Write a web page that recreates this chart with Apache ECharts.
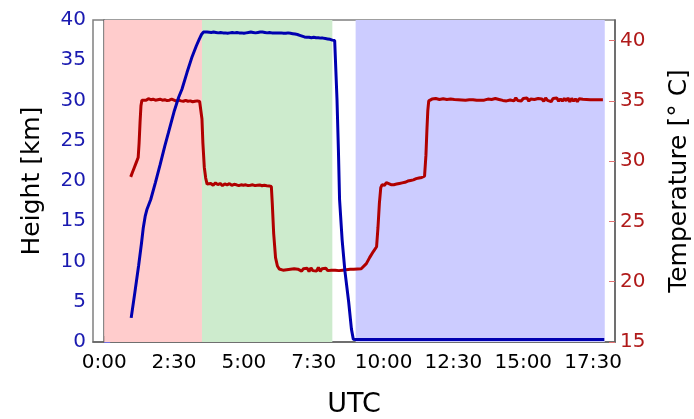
<!DOCTYPE html>
<html>
<head>
<meta charset="utf-8">
<script src="https://cdn.jsdelivr.net/npm/echarts@6/dist/echarts.min.js"></script>
<style>
  html, body { margin: 0; padding: 0; background: #fff; }
  #chart { width: 694px; height: 419px; }
</style>
</head>
<body>
<div id="chart"></div>
<script>
// Flight profile: balloon height and payload temperature against UTC (minutes after 0:00)

// Height of the balloon [km]
const heightMinutes = [
  58, 66, 74, 80, 84, 88, 92, 100, 110, 120, 130, 138, 150, 160, 167, 178, 188, 198, 204, 209,
  213, 217, 221, 225, 230, 235, 240, 245, 250, 255, 260, 265, 270, 275, 280, 285, 290, 295, 300,
  305, 310, 315, 320, 325, 330, 335, 340, 345, 350, 355, 360, 363, 366, 370, 375, 380, 385, 390,
  395, 400, 405, 410, 415, 420, 425, 430, 435, 440, 445, 450, 455, 460, 465, 470, 475, 480, 485,
  490, 495, 498,
  500, 503, 505.5, 511, 517, 525, 531, 535,
  540, 600, 700, 800, 900, 1000, 1074
];
const heightKm = [
  3.0, 6.2, 9.5, 12.2, 14.2, 15.6, 16.5, 17.7, 19.8, 22.0, 24.3, 26.0, 28.6, 30.4, 31.4, 33.5, 35.3, 36.8, 37.6, 38.2,
  38.5, 38.55, 38.5, 38.55, 38.45, 38.5, 38.45, 38.4, 38.45, 38.4, 38.4, 38.35, 38.4, 38.45, 38.4, 38.45, 38.4, 38.4, 38.35,
  38.4, 38.45, 38.5, 38.45, 38.4, 38.45, 38.5, 38.5, 38.45, 38.4, 38.45, 38.4, 38.6, 38.4, 38.45, 38.4, 38.4, 38.35, 38.35,
  38.4, 38.35, 38.3, 38.25, 38.2, 38.1, 38.0, 37.9, 37.85, 37.85, 37.8, 37.85, 37.8, 37.8, 37.75, 37.75, 37.7, 37.65, 37.6,
  37.5, 37.45, 37.35,
  30.1, 23.9, 17.7, 12.7, 8.8, 5.0, 1.6, 0.35,
  0.3, 0.3, 0.3, 0.3, 0.3, 0.3, 0.3
];

// Payload temperature [°C]
const tempMinutes = [
  57, 61, 65, 69, 73, 75, 77, 79, 81,
  85, 90, 95, 100, 105, 110, 115, 120, 125, 130, 135, 140, 145, 150, 155, 160, 165, 170, 175, 180,
  185, 190, 195, 200, 205,
  208, 210, 212, 215, 218, 221, 224,
  229, 234, 239, 244, 249, 254, 259, 264, 269, 274, 279, 284, 289, 294, 299, 304, 309, 314, 319,
  324, 329, 334, 339, 344, 349, 354,
  359, 361, 364, 368, 372, 376,
  380, 384, 388, 392, 396, 400, 404, 408, 412, 416, 420, 424, 428, 432, 436, 440, 444, 448, 452,
  456, 460, 464, 468, 472, 476, 480, 484, 488, 492, 496, 500, 504, 508, 512, 516, 520, 524, 528,
  532, 536, 540, 544, 548, 552,
  556, 563, 570, 578, 585, 588, 591, 594, 597, 602, 606, 610, 616, 622, 628, 634, 640, 646, 652,
  658, 664, 670, 676, 682, 688, 691, 693, 695, 697, 700,
  704, 708, 712, 716, 720, 724, 728, 732, 736, 740, 744, 748, 752, 756, 760, 764, 768, 772, 776,
  780, 784, 788, 792, 796, 800, 804, 808, 812, 816, 820, 824, 828, 832, 836, 840, 844, 848, 852,
  856, 860, 864, 868, 872, 876, 880, 884, 888, 892, 896, 900, 904, 908, 912, 916, 920, 924, 928,
  932, 936, 940, 944, 948, 952, 956, 960, 964, 968, 972, 976, 980, 984, 988, 992, 996, 1000, 1004,
  1008, 1012, 1016, 1020, 1024, 1028, 1032, 1036, 1040, 1044, 1048, 1052, 1056, 1060, 1064, 1068, 1071
];
const tempC = [
  28.7, 29.1, 29.5, 29.9, 30.3, 31.5, 33.2, 34.6, 35.05,
  35.15, 35.05, 35.18, 35.1, 35.14, 35.06, 35.1, 35.14, 35.06, 35.1, 35.02, 35.06, 35.14, 35.06, 34.98, 35.06, 35.0, 34.97, 35.05, 34.97,
  35.0, 34.93, 34.97, 35.0, 34.95,
  34.95, 33.5, 31.5, 29.5, 28.6, 28.1, 27.95,
  28.15, 28.0, 28.2, 28.05, 28.15, 27.97, 28.12, 28.04, 28.14, 28.0, 28.08, 28.04, 27.97, 28.04, 28.0, 28.04, 27.97, 28.0, 28.04,
  27.97, 28.0, 28.03, 27.96, 28.0, 27.96, 27.95,
  27.9, 26.5, 24.0, 22.0, 21.3, 21.05,
  21.0, 20.96, 21.04, 21.0, 20.96, 21.04, 21.0, 21.08, 20.92, 21.04, 21.15, 20.88, 21.08, 20.92, 21.12, 20.85, 21.15, 20.92, 21.08,
  20.88, 21.18, 20.86, 21.08, 20.96, 21.12, 20.92, 21.08, 20.96, 21.04, 20.96, 21.08, 20.92, 21.04, 20.96, 21.08, 21.0, 20.96, 21.04,
  21.0, 21.04, 21.0, 21.06, 21.15, 21.08,
  21.15, 21.5, 22.0, 22.5, 22.9, 24.5, 26.5, 27.8, 28.05, 28.0, 28.22, 28.1, 28.05, 28.05, 28.1, 28.15, 28.2, 28.25, 28.35,
  28.4, 28.45, 28.55, 28.6, 28.65, 28.75, 30.5, 32.5, 34.2, 35.0, 35.1,
  35.15, 35.1, 35.2, 35.1, 35.12, 35.08, 35.18, 35.1, 35.12, 35.1, 35.16, 35.1, 35.12, 35.08, 35.1, 35.12, 35.08, 35.1, 35.06,
  35.1, 35.1, 35.06, 35.1, 35.08, 35.05, 35.1, 35.05, 35.15, 35.06, 34.9, 35.15, 35.08, 35.12, 35.02, 35.2, 35.06, 35.12, 35.2,
  35.04, 35.12, 35.0, 35.16, 35.08, 35.22, 35.0, 35.25, 35.04, 35.14, 35.0, 35.2, 35.04, 35.24, 34.98, 35.16, 35.06, 35.12, 34.98,
  35.2, 35.06, 35.16, 34.96, 35.25, 35.04, 35.18, 34.94, 35.2, 35.06, 35.24, 34.98, 35.16, 34.98, 35.2, 35.02, 35.24, 34.92, 35.2,
  34.98, 35.16, 34.94, 35.18, 35.04, 35.14, 35.0, 35.12, 35.06, 35.1, 35.08, 35.1, 35.1, 35.1, 35.1, 35.1, 35.1
];

// Flight phases shaded behind the curves (minutes)
const phaseStart = [0, 210, 540];
const phaseEnd = [210, 490, 1075];
const phaseColors = ['#ffcccc', '#cdebcd', '#ccccff'];

// Axis ticks
const timeTicks = [0, 150, 300, 450, 600, 750, 900, 1050];
const tempTicks = [15, 20, 25, 30, 35, 40];

const zip = (xs, ys) => xs.map((x, i) => [x, ys[i]]);
const fmtTime = m => Math.floor(m / 60) + ':' + String(Math.round(m % 60)).padStart(2, '0');

const FONT = 'DejaVu Sans';
const blue = '#0000b0';
const red = '#b00000';

const chart = echarts.init(document.getElementById('chart'), null, { renderer: 'canvas' });
chart.setOption({
  animation: false,
  backgroundColor: '#ffffff',
  grid: {
    left: 93, right: 79, top: 20, bottom: 77,
    outerBoundsMode: 'none', containLabel: false,
    show: true, borderColor: '#808080', borderWidth: 1.5, backgroundColor: 'transparent'
  },
  xAxis: {
    type: 'value', min: -24, max: 1097,
    name: 'UTC', nameLocation: 'middle', nameGap: 49,
    nameTextStyle: { fontFamily: FONT, fontSize: 27, color: '#000' },
    axisLine: { show: true, lineStyle: { color: '#606060', width: 1.5 } },
    axisTick: { show: true, inside: true, length: 6, customValues: timeTicks, lineStyle: { color: '#000', width: 1 } },
    axisLabel: { customValues: timeTicks, formatter: v => fmtTime(v), margin: 11,
      fontFamily: FONT, fontSize: 20, color: '#000' },
    splitLine: { show: false }
  },
  yAxis: [
    {
      type: 'value', min: 0, max: 40, interval: 5, position: 'left',
      name: 'Height [km]', nameLocation: 'middle', nameRotate: 90, nameGap: 48,
      nameTextStyle: { fontFamily: FONT, fontSize: 25, color: '#000' },
      axisLine: { show: true, lineStyle: { color: '#606060', width: 1.5 } },
      axisTick: { show: true, inside: true, length: 6, lineStyle: { color: '#7070e0', width: 1 } },
      axisLabel: { margin: 7, fontFamily: FONT, fontSize: 20, color: '#1a1ab0' },
      splitLine: { show: false }
    },
    {
      type: 'value', min: 15, max: 41.71, position: 'right',
      name: 'Temperature [° C]', nameLocation: 'middle', nameRotate: 90, nameGap: 52,
      nameTextStyle: { fontFamily: FONT, fontSize: 25, color: '#000' },
      axisLine: { show: true, lineStyle: { color: '#606060', width: 1.5 } },
      axisTick: { show: true, inside: true, length: 6, customValues: tempTicks, lineStyle: { color: '#e07070', width: 1 } },
      axisLabel: { customValues: tempTicks, margin: 5, fontFamily: FONT, fontSize: 20, color: '#b01a1a' },
      splitLine: { show: false }
    }
  ],
  series: [
    {
      name: 'Temperature', type: 'line', yAxisIndex: 1, showSymbol: false, symbol: 'none',
      data: zip(tempMinutes, tempC),
      lineStyle: { color: red, width: 3 },
      z: 2,
      markArea: {
        silent: true,
        data: phaseStart.map((s, i) => [
          { xAxis: s, itemStyle: { color: phaseColors[i] } },
          { xAxis: phaseEnd[i] }
        ])
      }
    },
    {
      name: 'Height', type: 'line', yAxisIndex: 0, showSymbol: false, symbol: 'none',
      data: zip(heightMinutes, heightKm),
      lineStyle: { color: blue, width: 3 },
      z: 3
    }
  ]
});
</script>
</body>
</html>
